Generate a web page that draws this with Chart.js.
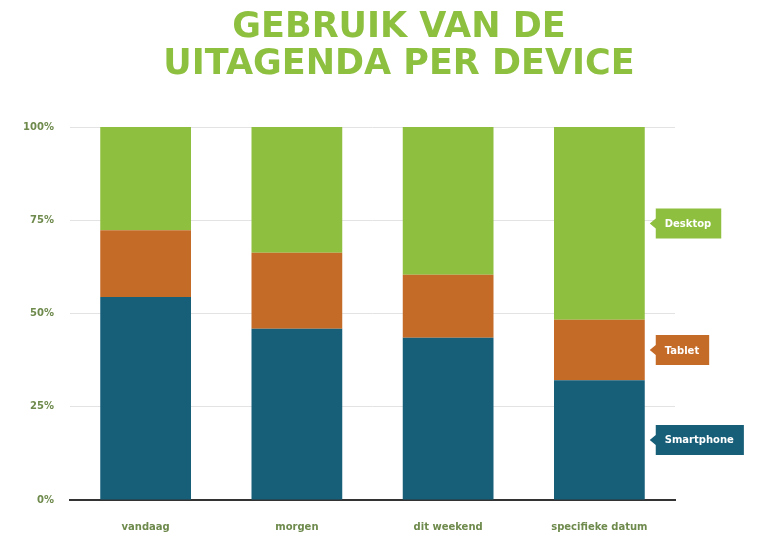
<!DOCTYPE html>
<html>
<head>
<meta charset="utf-8">
<script src="https://cdn.jsdelivr.net/npm/chart.js@4"></script>
<style>
  html, body { margin: 0; padding: 0; background: #fff; }
  #wrap { position: relative; width: 770px; height: 547px; }
  #titel {
    position: absolute; top: 7px; left: 0; width: 770px; box-sizing: border-box;
    padding-left: 28px; margin: 0; text-align: center;
    font-family: "DejaVu Sans", sans-serif; font-weight: bold; font-size: 35px;
    line-height: 36.6px; color: #8dc03f;
  }
</style>
</head>
<body>
<div id="wrap">
  <h1 id="titel">GEBRUIK VAN DE<br>UITAGENDA PER DEVICE</h1>
  <canvas id="grafiek"></canvas>
</div>
<script>
const categories = ['vandaag', 'morgen', 'dit weekend', 'specifieke datum'];
const smartphone = [54.4, 45.9, 43.5, 32.1];
const tablet = [17.9, 20.4, 16.9, 16.2];
const desktop = [27.7, 33.7, 39.6, 51.7];
const yTicks = [0, 25, 50, 75, 100];

const groen = '#8fbf3e';
const oranje = '#c46b28';
const blauw = '#175f79';
const tekstKleur = '#6e8a4c';
const lettertype = '"DejaVu Sans"';

// labels met pijltje naast de laatste balk
const callouts = {
  id: 'callouts',
  afterDatasetsDraw(chart) {
    const ctx = chart.ctx;
    ctx.save();
    ctx.font = 'bold 10px ' + lettertype;
    ctx.textBaseline = 'middle';
    chart.data.datasets.forEach((ds, i) => {
      const meta = chart.getDatasetMeta(i);
      const el = meta.data[meta.data.length - 1];
      const y = (el.y + el.base) / 2;
      const tip = el.x + el.width / 2 + 5;
      const left = tip + 6;
      const w = ctx.measureText(ds.label).width + 19;
      const h = 30;
      ctx.fillStyle = ds.backgroundColor;
      ctx.beginPath();
      ctx.moveTo(tip, y);
      ctx.lineTo(left, y - 5);
      ctx.lineTo(left, y - h / 2);
      ctx.lineTo(left + w, y - h / 2);
      ctx.lineTo(left + w, y + h / 2);
      ctx.lineTo(left, y + h / 2);
      ctx.lineTo(left, y + 5);
      ctx.closePath();
      ctx.fill();
      ctx.fillStyle = '#fff';
      ctx.fillText(ds.label, left + 9, y + 1);
    });
    ctx.restore();
  }
};

const data = {
  labels: categories,
  datasets: [
    { label: 'Smartphone', data: smartphone, backgroundColor: blauw },
    { label: 'Tablet', data: tablet, backgroundColor: oranje },
    { label: 'Desktop', data: desktop, backgroundColor: groen }
  ]
};

const config = {
  type: 'bar',
  data,
  plugins: [callouts],
  options: {
    responsive: true,
    maintainAspectRatio: false,
    animation: false,
    datasets: {
      bar: { barPercentage: 0.6, categoryPercentage: 1.0 }
    },
    layout: { padding: { left: 0, right: 95, top: 127, bottom: 0 } },
    plugins: {
      legend: { display: false },
      tooltip: { enabled: false },
      title: { display: false }
    },
    scales: {
      x: {
        stacked: true,
        grid: { display: false, drawTicks: false },
        border: { color: '#333', width: 2 },
        ticks: {
          color: tekstKleur,
          padding: 21,
          font: { family: lettertype, size: 10, weight: 'bold' }
        },
        afterFit(scale) { scale.height = 47; }
      },
      y: {
        stacked: true,
        min: 0,
        max: 100,
        afterBuildTicks(scale) { scale.ticks = yTicks.map(v => ({ value: v })); },
        grid: { color: '#e3e3e3', lineWidth: 1, drawTicks: false },
        border: { display: false },
        ticks: {
          color: tekstKleur,
          padding: 16,
          font: { family: lettertype, size: 10, weight: 'bold' },
          callback: v => v + '%'
        },
        afterFit(scale) { scale.width = 70; }
      }
    }
  }
};

new Chart(document.getElementById('grafiek').getContext('2d'), config);
</script>
</body>
</html>
